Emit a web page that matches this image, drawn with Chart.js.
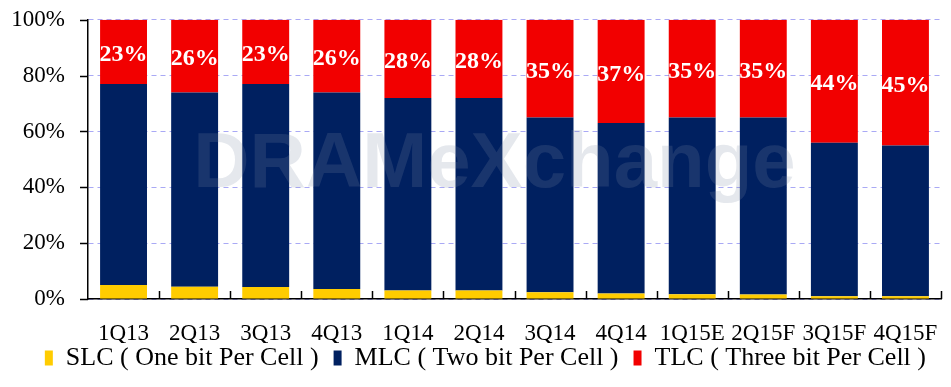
<!DOCTYPE html>
<html>
<head>
<meta charset="utf-8">
<script src="https://cdn.jsdelivr.net/npm/chart.js@4.4.0/dist/chart.umd.min.js"></script>
<style>
html,body{margin:0;padding:0;background:#fff;}
#wrap{width:951px;height:387px;}
</style>
</head>
<body>
<div id="wrap"><canvas id="nandChart"></canvas></div>
<script>
// NAND flash bit mix by quarter (%)

const quarters=["1Q13","2Q13","3Q13","4Q13","1Q14","2Q14","3Q14","4Q14","1Q15E","2Q15F","3Q15F","4Q15F"];
const slc=[5,4.4,4.3,3.6,3,3,2.4,2,1.7,1.6,1,1];
const mlc=[72,69.6,72.7,70.4,69,69,62.6,61,63.3,63.4,55,54];
const tlc=[23,26,23,26,28,28,35,37,35,35,44,45];
const yTicks=[0,20,40,60,80,100];
const seriesNames=["SLC ( One bit Per Cell )","MLC ( Two bit Per Cell )","TLC ( Three bit Per Cell )"];

const serif="'Liberation Serif','Times New Roman',serif";

// white % labels in the middle of the TLC segments
const tlcLabels={
id:"tlcLabels",
afterDatasetsDraw(chart){
let ctx=chart.ctx;
let meta=chart.getDatasetMeta(2);
ctx.save();
ctx.fillStyle="#fff";
ctx.font="bold 24px "+serif;
ctx.textAlign="center";
ctx.textBaseline="middle";
meta.data.forEach((bar,i)=>{
let p=bar.getProps(["x","y","base"],true);
ctx.fillText(Math.round(tlc[i])+"%",p.x,(p.y+p.base)/2+3);
});
ctx.restore();
}
};

// faint watermark, short y ticks and small upward ticks between categories
const extras={
id:"extras",
afterDraw(chart){
let ctx=chart.ctx;
let a=chart.chartArea;
let x=chart.scales.x;
let y=chart.scales.y;
ctx.save();
ctx.globalAlpha=0.2;
ctx.fillStyle="#7f8aa3";
ctx.font="bold 78px 'Liberation Sans',Arial,sans-serif";
ctx.textAlign="center";
ctx.textBaseline="middle";
ctx.fillText("DRAMeXchange",(a.left+a.right)/2-20,(a.top+a.bottom)/2+6);
ctx.restore();

ctx.save();
ctx.strokeStyle="#000";
ctx.lineWidth=1.5;
ctx.beginPath();
for(let i=0;i<quarters.length;i++){
let bx=(x.getPixelForValue(i)+(i<quarters.length-1?x.getPixelForValue(i+1):x.getPixelForValue(i)*2-x.getPixelForValue(i-1)))/2;
ctx.moveTo(Math.round(bx)+0.5,a.bottom);
ctx.lineTo(Math.round(bx)+0.5,a.bottom-8);
}
yTicks.forEach(v=>{
let py=Math.round(y.getPixelForValue(v))+0.5;
ctx.moveTo(a.left,py);
ctx.lineTo(a.left-8,py);
});
ctx.stroke();
ctx.restore();
}
};

new Chart(
document.getElementById("nandChart"),
{
type:"bar",
data:{
labels:quarters,
datasets:[
{label:seriesNames[0],data:slc,backgroundColor:"#FFCC00"},
{label:seriesNames[1],data:mlc,backgroundColor:"#002060"},
{label:seriesNames[2],data:tlc,backgroundColor:"#F20000"}
]
},
options:{
responsive:true,
maintainAspectRatio:false,
animation:false,
categoryPercentage:1,
barPercentage:0.66,
layout:{padding:{left:0,right:10,top:5,bottom:6}},
plugins:{
tooltip:{enabled:false},
legend:{
position:"bottom",
align:"end",
labels:{
color:"#000",
font:{family:serif,size:26},
boxWidth:8,
boxHeight:15,
padding:2,
// a little room after each entry, like the original
generateLabels(chart){
let items=Chart.defaults.plugins.legend.labels.generateLabels(chart);
items.forEach(it=>{it.text=it.text+"  ";});
return items;
}
}
}
},
scales:{
x:{
stacked:true,
grid:{display:false},
border:{color:"#000",width:1.5},
ticks:{color:"#000",font:{family:serif,size:23},maxRotation:0,autoSkip:false,padding:13},
afterFit(scale){scale.height=44;}
},
y:{
stacked:true,
min:0,
max:100,
afterBuildTicks(scale){scale.ticks=yTicks.map(v=>({value:v}));},
afterFit(scale){scale.width=88;},
grid:{color:"#a9a9f5",lineWidth:1,tickColor:"rgba(0,0,0,0)",tickLength:17},
border:{color:"#000",width:1.5,dash:[5,4]},
ticks:{color:"#000",font:{family:serif,size:23},padding:6,callback:v=>v+"%"}
}
}
},
plugins:[tlcLabels,extras]
}
);
</script>
</body>
</html>
